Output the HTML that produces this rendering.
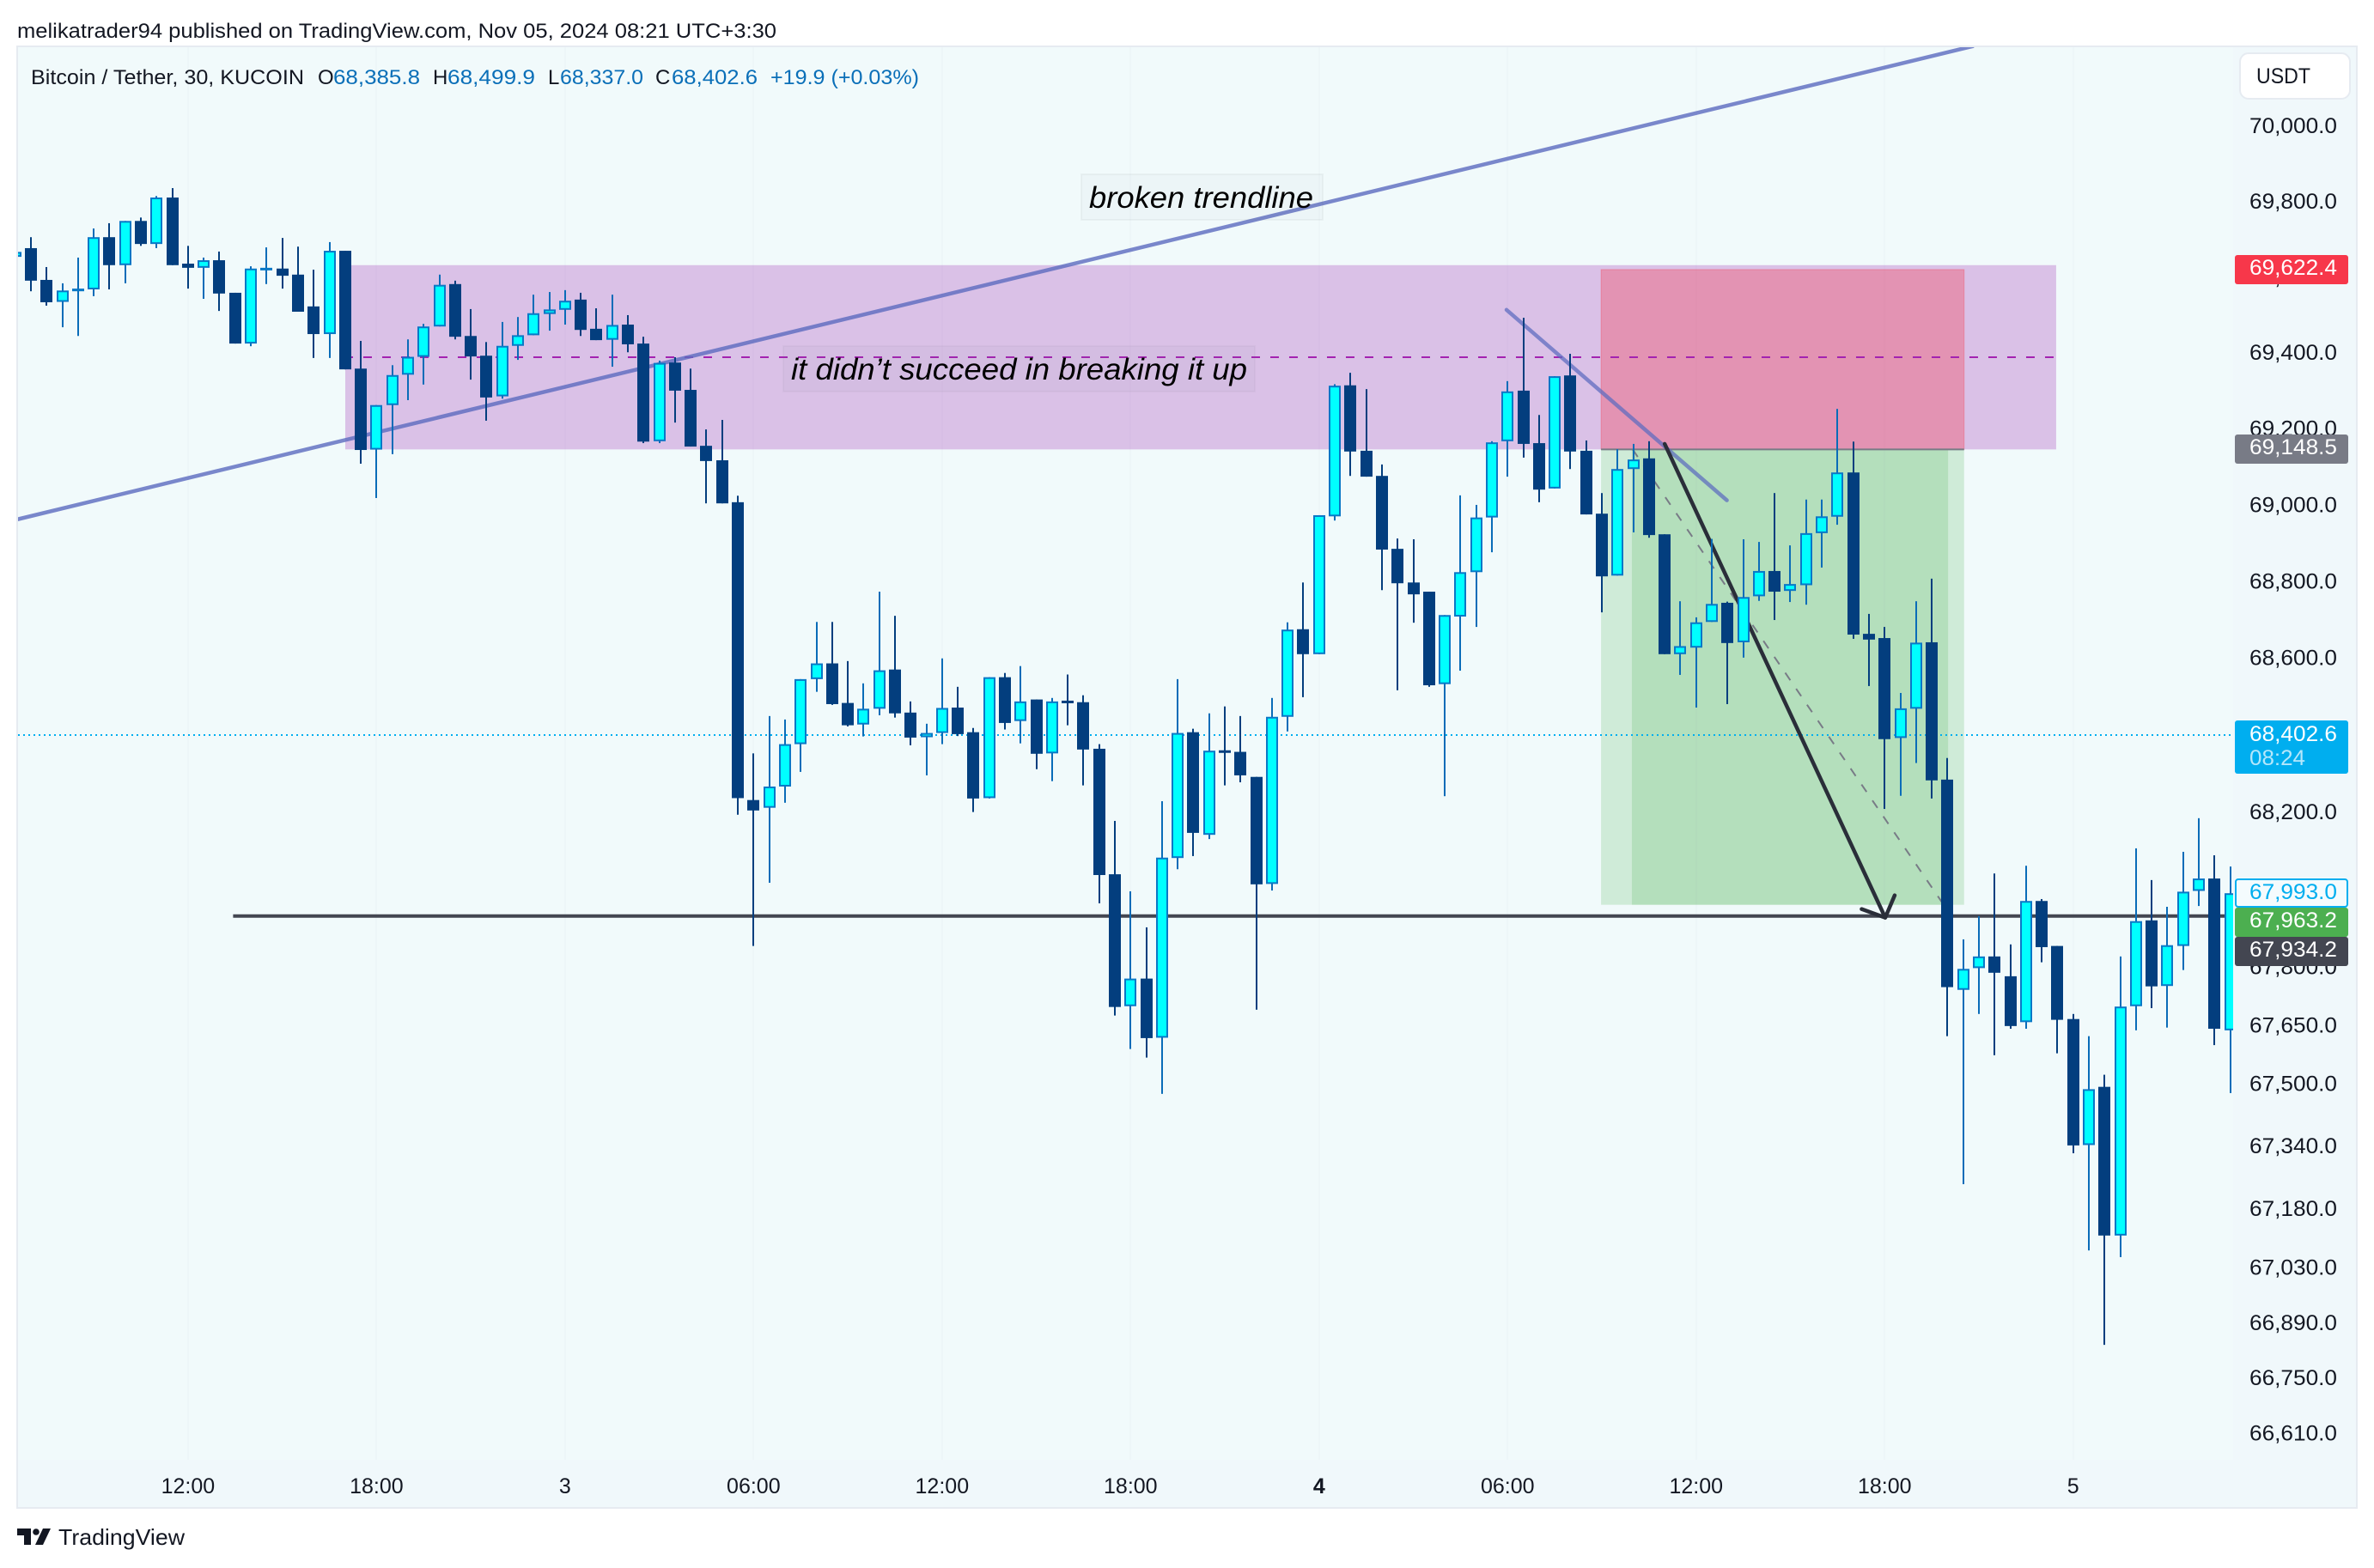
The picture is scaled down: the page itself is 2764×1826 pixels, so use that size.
<!DOCTYPE html>
<html lang="en">
<head>
<meta charset="utf-8">
<title>BTC/USDT 30m chart</title>
<style>
html,body{margin:0;padding:0;background:#fff;width:2764px;height:1826px;overflow:hidden}
svg{position:absolute;left:0;top:0;font-family:"Liberation Sans",Arial,sans-serif}
</style>
</head>
<body>
<svg id="chart" xmlns="http://www.w3.org/2000/svg" width="2764" height="1826" viewBox="0 0 2764 1826">
  <defs>
    <clipPath id="pane-clip"><rect x="21" y="55" width="2579" height="1700"></rect></clipPath>
  </defs>
  <rect x="0" y="0" width="2764" height="1826" fill="#ffffff"></rect>
  <text x="20" y="44" font-size="24" fill="#131722" textLength="884" lengthAdjust="spacingAndGlyphs">melikatrader94 published on TradingView.com, Nov 05, 2024 08:21 UTC+3:30</text>
  <rect x="20" y="54" width="2724" height="1702" fill="#f0f8fb" stroke="#e6ebf1" stroke-width="2"></rect>
  <rect x="21" y="55" width="2579" height="1645" fill="#f1fafb"></rect>
  <g id="grid"></g>
  <g id="drawings" clip-path="url(#pane-clip)"></g>
  <g id="candles" clip-path="url(#pane-clip)"></g>
  <g id="y-axis"></g>
  <g id="x-axis"></g>

  <g font-size="24">
    <text x="36" y="98" fill="#131722" textLength="318" lengthAdjust="spacingAndGlyphs">Bitcoin / Tether, 30, KUCOIN</text>
    <text x="370" y="98" fill="#131722">O</text>
    <text x="388" y="98" fill="#0a6fb8" textLength="101" lengthAdjust="spacingAndGlyphs">68,385.8</text>
    <text x="504" y="98" fill="#131722">H</text>
    <text x="521" y="98" fill="#0a6fb8" textLength="102" lengthAdjust="spacingAndGlyphs">68,499.9</text>
    <text x="638" y="98" fill="#131722">L</text>
    <text x="652" y="98" fill="#0a6fb8" textLength="97" lengthAdjust="spacingAndGlyphs">68,337.0</text>
    <text x="763" y="98" fill="#131722">C</text>
    <text x="782" y="98" fill="#0a6fb8" textLength="100" lengthAdjust="spacingAndGlyphs">68,402.6</text>
    <text x="897" y="98" fill="#0a6fb8" textLength="173" lengthAdjust="spacingAndGlyphs">+19.9 (+0.03%)</text>
  </g>

  <g>
    <rect x="2608" y="62" width="128" height="53" rx="10" fill="#ffffff" stroke="#e6ebf1" stroke-width="2"></rect>
    <text x="2627" y="97" font-size="25" fill="#131722" textLength="63" lengthAdjust="spacingAndGlyphs">USDT</text>
  </g>

  <g>
    <path d="M20 1780h16v19h-8v-11h-8z" fill="#131722"></path>
    <circle cx="42" cy="1784" r="3.8" fill="#131722"></circle>
    <path d="M50 1780h9l-9 19h-9z" fill="#131722"></path>
    <text x="68" y="1799" font-size="26" fill="#131722" textLength="147" lengthAdjust="spacingAndGlyphs">TradingView</text>
  </g>
</svg>

<script>
const opens = [
69656,69679,69595,69537,69565,69570,69708,69634,69751,69690,
69813,69638,69627,69647,69561,69427,69622,69625,69609,69525,
69452,69672,69361,69148,69265,69345,69392,69472,69584,69447,
69395,69288,69421,69449,69505,69516,69543,69466,69437,69477,
69427,69170,69377,69305,69158,69120,69010,68234,68214,68269,
68379,68548,68589,68486,68430,68471,68573,68461,68397,68408,
68474,68410,68239,68553,68439,68495,68355,68492,68488,68367,
68042,67702,67773,67621,68084,68410,68144,68363,68359,68294,
68017,68450,68678,68613,68973,69317,69145,69079,68888,68800,
68776,68535,68711,68827,68970,69170,69303,69165,69046,69343,
69145,68980,68818,69097,69125,68926,68613,68630,68697,68747,
68644,68764,68830,68778,68793,68929,68972,69088,68666,68655,
68395,68471,68644,68287,67744,67800,67830,67779,67661,67973,
67857,67669,67346,67495,67115,67702,67923,67754,67857,67999,
68031,67640];
const highs = [
69670,69708,69629,69586,69654,69731,69745,69751,69760,69817,
69838,69685,69654,69670,69561,69631,69681,69706,69683,69622,
69695,69672,69434,69265,69370,69438,69479,69609,69593,69518,
69431,69484,69497,69556,69563,69568,69561,69520,69556,69502,
69445,69382,69391,69361,69201,69226,69027,68355,68452,68443,
68548,68697,68697,68595,68537,68776,68713,68490,68432,68602,
68528,68421,68553,68564,68582,68495,68499,68560,68506,68379,
68180,67998,67905,68231,68548,68419,68459,68477,68452,68294,
68499,68696,68800,68976,69320,69350,69307,69109,68915,68913,
68776,68715,69028,69003,69170,69328,69495,69239,69341,69400,
69172,69034,69149,69163,69170,68926,68751,68709,68914,68750,
68913,68906,69034,68897,69017,69017,69255,69169,68718,68684,
68512,68751,68810,68343,67874,67934,68044,67861,68064,67978,
67857,67682,67625,67526,67830,68109,68027,67958,68100,68187,
68091,68062];
const lows = [
69654,69565,69527,69470,69447,69552,69570,69586,69685,69679,
69634,69572,69545,69513,69427,69420,69584,69572,69511,69389,
69389,69359,69111,69021,69136,69278,69319,69472,69438,69332,
69224,69282,69384,69449,69461,69477,69447,69436,69366,69404,
69165,69165,69219,69156,69007,69007,68196,67857,68020,68227,
68307,68515,68481,68425,68399,68454,68448,68376,68298,68379,
68400,68203,68238,68417,68381,68314,68283,68428,68272,67967,
67678,67592,67570,67477,68055,68089,68133,68272,68280,67693,
68000,68412,68501,68613,68962,69079,69077,68780,68519,68695,
68528,68244,68570,68684,68879,69077,69127,69010,69046,69097,
68978,68722,68818,68931,68917,68613,68559,68474,68697,68483,
68604,68752,68702,68749,68742,68839,68951,68653,68530,68211,
68245,68330,68238,67625,67246,67682,67576,67644,67644,67815,
67581,67325,67077,66837,67060,67640,67697,67647,67795,67960,
67602,67479];
const closes = [
69669,69593,69536,69567,69572,69708,69634,69751,69690,69813,
69634,69627,69647,69559,69427,69625,69627,69606,69511,69452,
69672,69359,69147,69265,69344,69392,69472,69582,69445,69393,
69285,69421,69449,69507,69517,69540,69463,69436,69476,69425,
69169,69376,69303,69156,69118,69007,68239,68207,68269,68379,
68548,68589,68483,68428,68471,68571,68459,68396,68408,68473,
68405,68238,68553,68434,68490,68354,68490,68488,68365,68040,
67700,67773,67620,68085,68408,68149,68362,68358,68298,68016,
68450,68677,68613,68976,69316,69143,69077,68886,68798,68769,
68532,68715,68827,68970,69167,69301,69163,69043,69341,69143,
68978,68816,69097,69122,68924,68613,68634,68696,68744,68642,
68762,68830,68776,68796,68929,68973,69088,68664,68651,68392,
68472,68643,68285,67751,67798,67830,67788,67651,67973,67854,
67667,67345,67489,67115,67701,67921,67753,67859,67997,68031,
67644,67993];

const priceTicks = [70000,69800,69600,69400,69200,69000,68800,68600,68400,68200,68000,67800,67650,67500,67340,67180,67030,66890,66750,66610];
const timeTickLabels = ["12:00","18:00","3","06:00","12:00","18:00","4","06:00","12:00","18:00","5"];
const timeTickBars = [11,23,35,47,59,71,83,95,107,119,131];
const boldTimeLabels = ["4"];

const svgNS = "http://www.w3.org/2000/svg";

function xOf(bar){ return 17.71 + 18.29 * bar; }
function yOf(price){ return 148 + 30670 * Math.log(70000 / price); }
function fmt(p){ return p.toLocaleString("en-US",{minimumFractionDigits:1,maximumFractionDigits:1}); }

function make(tag, attrs, parent){
  const el = document.createElementNS(svgNS, tag);
  for(const k in attrs){ el.setAttribute(k, attrs[k]); }
  parent.appendChild(el);
  return el;
}

/* ---------- grid + time axis ---------- */
const gridG = document.getElementById("grid");
const xAxisG = document.getElementById("x-axis");
timeTickLabels.forEach(function(label, idx){
  const x = xOf(timeTickBars[idx]);
  const line = make("rect", {x: Math.round(x)-1, y: 55, width: 2, height: 1645, fill: "#e6eef2", opacity: 0.3}, gridG);
  
  
  const isBold = boldTimeLabels.indexOf(label) >= 0;
  const t = make("text", {x: x, y: 1739, "font-size": 25, "text-anchor": "middle", fill: "#131722", "font-weight": isBold ? "700" : "400"}, xAxisG);
  t.textContent = label;
  
  
});

/* ---------- price axis ---------- */
const yAxisG = document.getElementById("y-axis");
priceTicks.forEach(function(p){
  const t = make("text", {x: 2619, y: yOf(p) + 7, "font-size": 25, fill: "#131722", textLength: 102, lengthAdjust: "spacingAndGlyphs"}, yAxisG);
  t.textContent = fmt(p);
  
  
});

/* ---------- drawings (anchored to bar index / price) ---------- */
const d = document.getElementById("drawings");
const zoneBarStart = 21.01, zoneBarEnd = 129.92;
const zoneHigh = 69634, zoneLow = 69148.5, zoneMid = 69391;
const stopPrice = 69622.4, entryPrice = 69148.5, targetPrice = 67963.2;
const posBarStart = 100.95, posBarEnd = 124.06, innerBarStart = 102.91, innerBarEnd = 123.04;
const supportPrice = 67934.2, supportBarStart = 13.87, supportBarEnd = 141.5;
const lastPrice = 68402.6;

const zone = make("rect", {x: xOf(zoneBarStart), y: yOf(zoneHigh), width: xOf(zoneBarEnd)-xOf(zoneBarStart), height: yOf(zoneLow)-yOf(zoneHigh), fill: "rgba(156,39,176,0.27)"}, d);



const stopZone = make("rect", {x: xOf(posBarStart), y: yOf(stopPrice), width: xOf(posBarEnd)-xOf(posBarStart), height: yOf(entryPrice)-yOf(stopPrice), fill: "rgba(247,55,74,0.33)", stroke: "rgba(247,55,74,0.3)", "stroke-width": 1}, d);



const targetZone = make("rect", {x: xOf(posBarStart), y: yOf(entryPrice), width: xOf(posBarEnd)-xOf(posBarStart), height: yOf(targetPrice)-yOf(entryPrice), fill: "rgba(76,175,80,0.2)"}, d);



const innerZone = make("rect", {x: xOf(innerBarStart), y: yOf(entryPrice), width: xOf(innerBarEnd)-xOf(innerBarStart), height: yOf(targetPrice)-yOf(entryPrice), fill: "rgba(76,175,80,0.2)"}, d);



const entryLine = make("rect", {x: xOf(posBarStart), y: yOf(entryPrice)-1, width: xOf(posBarEnd)-xOf(posBarStart), height: 2, fill: "#787b86"}, d);



const midLine = make("line", {x1: xOf(zoneBarStart)-1, x2: xOf(zoneBarEnd), y1: yOf(zoneMid), y2: yOf(zoneMid), stroke: "#a322b0", "stroke-width": 2, "stroke-dasharray": "10 12"}, d);



const lastLine = make("line", {x1: 21, x2: 2600, y1: yOf(lastPrice), y2: yOf(lastPrice), stroke: "#00aeef", "stroke-width": 2, "stroke-dasharray": "2 4"}, d);



const pathDiag = make("line", {x1: xOf(102.96), y1: yOf(entryPrice), x2: xOf(122.76), y2: yOf(targetPrice), stroke: "#787b86", "stroke-width": 2, "stroke-dasharray": "10.5 12"}, d);



const trend = make("line", {x1: xOf(0.126), y1: yOf(68965), x2: xOf(124.67), y2: yOf(70216), stroke: "#5c6bc0", "stroke-width": 4.5, opacity: 0.8}, d);



const shortTrend = make("line", {x1: xOf(94.93), y1: yOf(69516), x2: xOf(108.96), y2: yOf(69015), stroke: "#5c6bc0", "stroke-width": 4.5, "stroke-linecap": "round", opacity: 0.72}, d);



const support = make("line", {x1: xOf(supportBarStart), x2: xOf(supportBarEnd), y1: yOf(supportPrice), y2: yOf(supportPrice), stroke: "#434651", "stroke-width": 4}, d);



const tipX = xOf(119.04), tipY = yOf(67930);
const arrow = make("line", {x1: xOf(105), y1: yOf(69163), x2: tipX, y2: tipY, stroke: "#2a2e39", "stroke-width": 4.5, "stroke-linecap": "round"}, d);


const arrowHead = make("path", {d: "M" + (tipX-27.5) + " " + (tipY-10) + "L" + tipX + " " + tipY + "L" + (tipX+11) + " " + (tipY-26), fill: "none", stroke: "#2a2e39", "stroke-width": 4.5, "stroke-linecap": "round", "stroke-linejoin": "round"}, d);



/* notes */
const note1Box = make("rect", {x: 1259, y: 203, width: 281, height: 53, fill: "rgba(120,123,134,0.035)", stroke: "rgba(120,123,134,0.07)", "stroke-width": 2}, d);


const note1 = make("text", {x: 1268, y: 242, "font-size": 35, "font-style": "italic", fill: "#000", textLength: 261, lengthAdjust: "spacingAndGlyphs"}, d);
note1.textContent = "broken trendline";



const note2Box = make("rect", {x: 912, y: 403, width: 549, height: 53, fill: "rgba(120,123,134,0.05)", stroke: "rgba(120,123,134,0.06)", "stroke-width": 2}, d);


const note2 = make("text", {x: 921, y: 442, "font-size": 35, "font-style": "italic", fill: "#000", textLength: 531, lengthAdjust: "spacingAndGlyphs"}, d);
note2.textContent = "it didn\u2019t succeed in breaking it up";



/* ---------- candles ---------- */
const candlesG = document.getElementById("candles");
const upFill = "#00ffff", upBorder = "#0a78c6", upWick = "#0a6cb8", downFill = "#033e7e", downWick = "#033e7e";
opens.forEach(function(o, i){
  const c = closes[i], h = highs[i], l = lows[i];
  const up = c >= o;
  const cx = Math.round(xOf(i));
  const top = yOf(Math.max(o, c)), bot = yOf(Math.min(o, c));
  const g = make("g", {}, candlesG);
  
  
  const wick = make("rect", {x: cx-1, y: yOf(h), width: 2, height: Math.max(1, yOf(l)-yOf(h)), fill: up ? upWick : downWick}, g);
  
  
  let body;
  if(up){
    const hh = Math.max(2, bot-top);
    const mid = (top+bot)/2;
    body = make("rect", {x: cx-6, y: mid-hh/2+1, width: 12, height: Math.max(1, hh-2), fill: upFill, stroke: upBorder, "stroke-width": 2}, g);
  } else {
    body = make("rect", {x: cx-7, y: top, width: 14, height: Math.max(3, bot-top), fill: downFill}, g);
  }
  
  
});

/* ---------- price labels ---------- */
const labelG = make("g", {}, document.getElementById("chart"));



const labelTexts = ["69,622.4","69,148.5","67,963.2","67,934.2"];
const labelFills = ["#f7374a","#787b86","#4caf50","#434651"];
const labelTops = [297,506,1057,1091];
labelTexts.forEach(function(txt, i){
  const r = make("rect", {x: 2602, y: labelTops[i], width: 132, height: 34, rx: 3, fill: labelFills[i]}, labelG);
  
  
  const t = make("text", {x: 2619, y: labelTops[i] + 23, "font-size": 25, fill: "#ffffff", textLength: 102, lengthAdjust: "spacingAndGlyphs"}, labelG);
  t.textContent = txt;
  
  
});

const lastBox = make("rect", {x: 2602, y: 839, width: 132, height: 62, rx: 3, fill: "#00aeef"}, labelG);


const lastText = make("text", {x: 2619, y: 863, "font-size": 25, fill: "#ffffff", textLength: 102, lengthAdjust: "spacingAndGlyphs"}, labelG);
lastText.textContent = "68,402.6";


const countdown = make("text", {x: 2619, y: 891, "font-size": 25, fill: "#b5e7fb", textLength: 65, lengthAdjust: "spacingAndGlyphs"}, labelG);
countdown.textContent = "08:24";



const outBox = make("rect", {x: 2603, y: 1024, width: 130, height: 32, rx: 3, fill: "#f4fbfd", stroke: "#00aeef", "stroke-width": 2}, labelG);


const outText = make("text", {x: 2619, y: 1047, "font-size": 25, fill: "#00aeef", textLength: 102, lengthAdjust: "spacingAndGlyphs"}, labelG);
outText.textContent = "67,993.0";


</script>
</body>
</html>
